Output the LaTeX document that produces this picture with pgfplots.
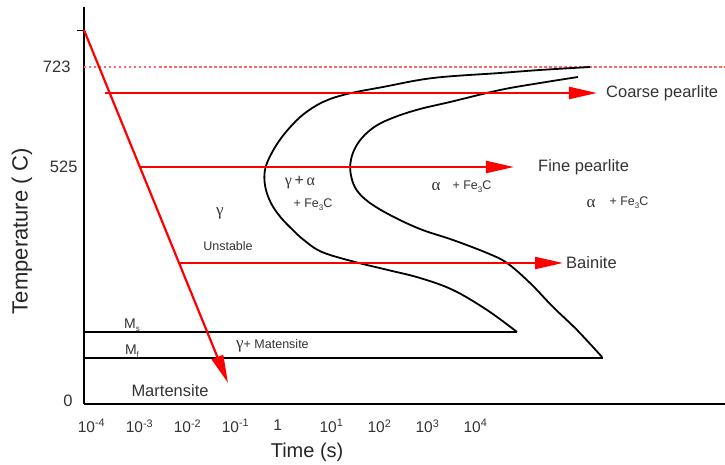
\documentclass[border=0pt]{standalone}
\usepackage{pgfplots}
\pgfplotsset{compat=1.18}
\usepackage{fontspec}
\setmainfont{Liberation Sans}
\newfontfamily\greek{Liberation Serif}
\usetikzlibrary{arrows.meta}

% x: log10 of time in seconds; y: schematic temperature height
\begin{document}
\begin{tikzpicture}[x=1pt,y=1pt]
\useasboundingbox (-84,-61) rectangle (641,404);
\begin{axis}[
  at={(0,0)}, anchor=south west,
  scale only axis, width=641pt, height=397pt,
  xmin=-4.229, xmax=9.125, ymin=0, ymax=397,
  axis x line=bottom, axis y line=left,
  axis line style={line width=2pt, -},
  clip=false,
  major tick length=0pt,
  xtick={-4,-3,-2,-1,-0.12,1,2,3,4},
  xticklabels={10\textsuperscript{-4},10\textsuperscript{-3},10\textsuperscript{-2},10\textsuperscript{-1},1,10\textsuperscript{1},10\textsuperscript{2},10\textsuperscript{3},10\textsuperscript{4}},
  xticklabel style={font=\fontsize{15.5}{15.5}\selectfont, text=black!80, xshift=-3.5pt, yshift=-12pt},
  ytick={3,237,337},
  yticklabels={0\kern5pt,525,723\kern7pt},
  yticklabel style={font=\fontsize{16.5}{16.5}\selectfont, text=black!80, xshift=-3pt},
  extra y ticks={374},
  extra y tick labels={},
  extra y tick style={tick align=outside, major tick length=7pt, tick style={line width=0.8pt, black}},
  xlabel={Time (s)},
  xlabel style={at={(axis description cs:0.348,-0.121)}, anchor=center, font=\fontsize{20}{20}\selectfont, text=black!85},
  ylabel={Temperature ( C)},
  ylabel style={at={(axis description cs:-0.097,0.436)}, anchor=center, font=\fontsize{22}{22}\selectfont, text=black!85},
]

% eutectoid temperature
\addplot[red!60, line width=1.5pt, dash pattern=on 2.5pt off 2.5pt] coordinates {(-4.229,337) (9.125,337)};

% start of transformation
\addplot[black, line width=1.8pt, smooth, tension=0.6] coordinates {
(6.313,337) (5.271,334) (4.438,331) (3.042,326) (2.000,317) (1.250,310)
(0.750,302) (0.350,290) (0.050,276) (-0.180,262) (-0.350,248) (-0.450,236)
(-0.470,224) (-0.420,211) (-0.300,198) (-0.120,186) (0.100,175) (0.350,164)
(0.729,152) (1.417,142) (2.104,134) (2.771,126) (3.458,114) (4.167,94) (4.792,72)};

% end of transformation
\addplot[black, line width=1.8pt, smooth, tension=0.6] coordinates {
(6.063,327) (5.271,321) (4.438,314) (3.396,302) (2.771,295) (2.250,287)
(1.850,278) (1.560,266) (1.390,253) (1.320,240) (1.340,227) (1.450,214)
(1.700,202) (2.146,189) (2.771,175) (3.458,164) (4.167,151) (4.583,141)
(5.063,121) (5.542,97) (6.042,74) (6.563,47)};

% martensite start and finish
\addplot[black, line width=2.2pt] coordinates {(-4.229,72) (4.792,72)};
\addplot[black, line width=2.2pt] coordinates {(-4.229,46) (6.583,46)};

% cooling paths
\addplot[red, line width=2.2pt, -{Triangle[length=28pt,width=12pt]}] coordinates {(-4.229,374) (-1.229,21)};
\addplot[red, line width=2.2pt, -{Triangle[length=28pt,width=12pt]}] coordinates {(-3.79,311) (6.458,311)};
\addplot[red, line width=2.2pt, -{Triangle[length=28pt,width=12pt]}] coordinates {(-3.0625,237) (4.729,237)};
\addplot[red, line width=2.2pt, -{Triangle[length=28pt,width=12pt]}] coordinates {(-2.25,141) (5.75,141)};

% labels
\tikzset{lab/.style={text=black!80, inner sep=0pt}}
\node[lab, anchor=west, font=\fontsize{16.5}{16.5}\selectfont] at (axis cs:6.646,311) {Coarse pearlite};
\node[lab, anchor=west, font=\fontsize{16.5}{16.5}\selectfont] at (axis cs:5.229,237) {Fine pearlite};
\node[lab, anchor=west, font=\fontsize{16.5}{16.5}\selectfont] at (axis cs:5.813,141) {Bainite};
\node[lab, font=\greek\fontsize{17}{17}\selectfont] at (axis cs:-1.396,191) {γ};
\node[lab, font=\fontsize{12.5}{12.5}\selectfont] at (axis cs:-1.229,158) {Unstable};
\node[lab, font=\fontsize{16}{16}\selectfont] at (axis cs:0.271,221) {{\greek γ}\,+\,{\greek α}};
\node[lab, font=\fontsize{12.5}{12.5}\selectfont] at (axis cs:0.542,199) {+ Fe\raisebox{-3pt}{\footnotesize 3}C};
\node[lab, font=\greek\fontsize{17}{17}\selectfont] at (axis cs:3.104,217) {α};
\node[lab, font=\fontsize{12.5}{12.5}\selectfont] at (axis cs:3.854,217) {+ Fe\raisebox{-3pt}{\footnotesize 3}C};
\node[lab, font=\greek\fontsize{17}{17}\selectfont] at (axis cs:6.333,200) {α};
\node[lab, font=\fontsize{12.5}{12.5}\selectfont] at (axis cs:7.125,201) {+ Fe\raisebox{-3pt}{\footnotesize 3}C};
\node[lab, font=\fontsize{14}{14}\selectfont] at (axis cs:-3.229,79) {M\raisebox{-3pt}{\footnotesize s}};
\node[lab, font=\fontsize{14}{14}\selectfont] at (axis cs:-3.229,53) {M\raisebox{-3pt}{\footnotesize f}};
\node[lab, anchor=west, font=\fontsize{12.5}{12.5}\selectfont] at (axis cs:-1.062,58) {{\greek\fontsize{17}{17}\selectfont γ}+ Matensite};
\node[lab, font=\fontsize{16.5}{16.5}\selectfont] at (axis cs:-2.437,13) {Martensite};
\end{axis}
\end{tikzpicture}
\end{document}
